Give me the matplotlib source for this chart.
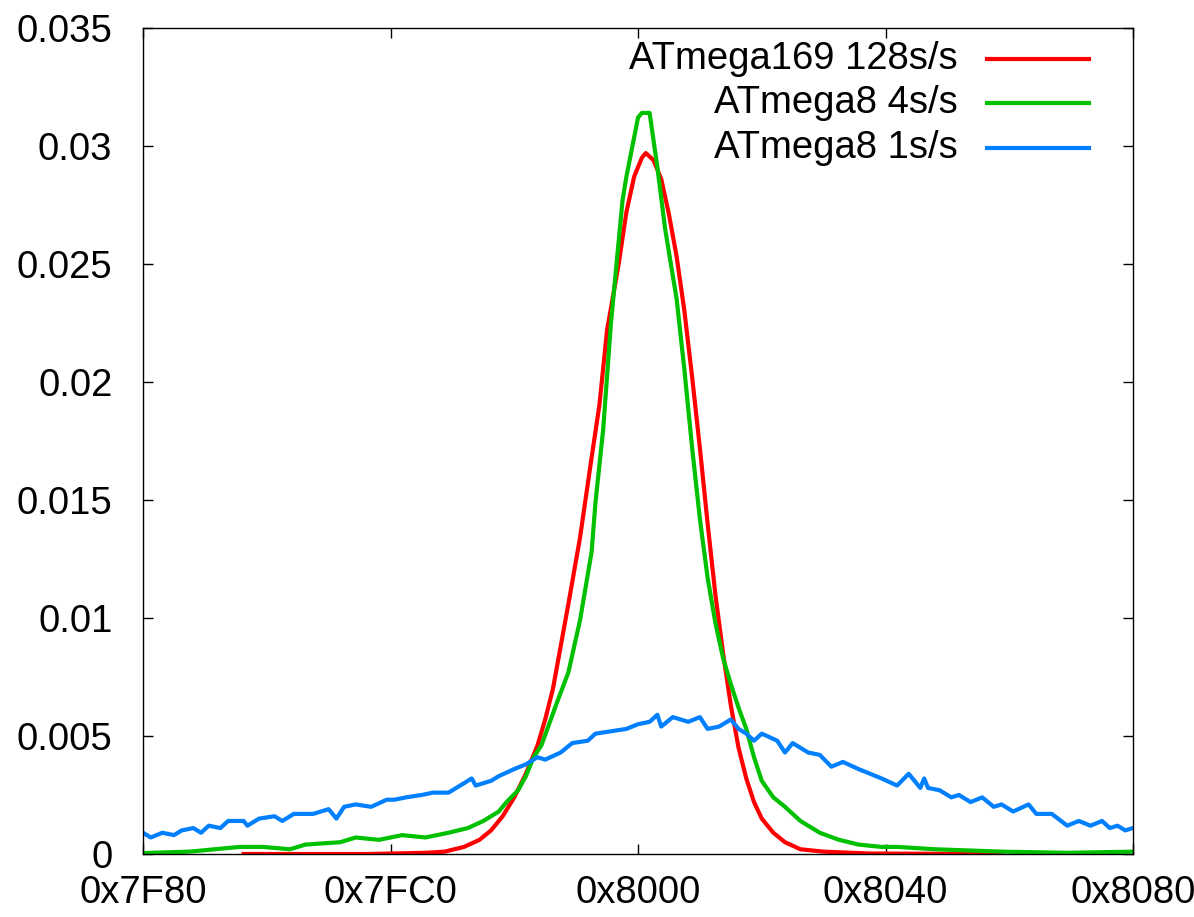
import matplotlib
matplotlib.use("Agg")
import matplotlib.pyplot as plt
from matplotlib.ticker import FuncFormatter

plt.rcParams['font.family'] = ['Liberation Sans', 'DejaVu Sans']

CENTER = 0x8000

# ATmega169 128s/s (offset from 0x8000, probability)
red_offset = [-102, -70, -55, -50, -45, -41, -38, -35, -32, -29, -26, -24, -22, -20, -18,
              -15, -12, -10, -8, -5, -3, -1, 1, 2, 4, 6, 8, 10, 12, 14, 16, 18, 20, 22,
              24, 26, 28, 30, 32, 35, 38, 42, 48, 60, 94]
red_value = [0.0, 0.0, 0.00005, 0.0001, 0.0003, 0.0006, 0.0010, 0.0016, 0.0024, 0.0034,
             0.0046, 0.0057, 0.0070, 0.0088, 0.0106, 0.0134, 0.0168, 0.0190, 0.0222,
             0.0250, 0.0272, 0.0287, 0.0295, 0.0297, 0.0294, 0.0286, 0.0271, 0.0253,
             0.0230, 0.0202, 0.0172, 0.0140, 0.0110, 0.0085, 0.0063, 0.0045, 0.0032,
             0.0022, 0.0015, 0.0009, 0.0005, 0.0002, 0.0001, 0.00002, 0.0]

# ATmega8 4s/s
green_offset = [-128, -116, -103, -97, -90, -86, -77, -73, -67, -61, -55, -49, -44, -40,
                -36, -34, -31, -29, -27, -25, -23, -21, -18, -15, -12, -11, -9, -7, -4,
                -3, 0, 1, 3, 5, 7, 10, 12, 14, 16, 18, 20, 22, 24, 26, 28, 30, 32, 35, 38,
                42, 47, 52, 57, 63, 67, 77, 94, 111, 128]
green_value = [0.00004, 0.0001, 0.0003, 0.0003, 0.0002, 0.0004, 0.0005, 0.0007, 0.0006,
               0.0008, 0.0007, 0.0009, 0.0011, 0.0014, 0.0018, 0.0022, 0.0027, 0.0033,
               0.0041, 0.0046, 0.0055, 0.0064, 0.0077, 0.0099, 0.0128, 0.0149, 0.0180,
               0.0225, 0.0277, 0.0287, 0.0312, 0.0314, 0.0314, 0.0291, 0.0265, 0.0235,
               0.0205, 0.0172, 0.0142, 0.0117, 0.0098, 0.0083, 0.0072, 0.0062, 0.0053,
               0.0041, 0.0031, 0.0024, 0.0020, 0.0014, 0.0009, 0.0006, 0.0004, 0.0003,
               0.0003, 0.0002, 0.0001, 0.00005, 0.0001]

# ATmega8 1s/s
blue_offset = [-128, -126, -123, -120, -118, -115, -113, -111, -108, -106, -102, -101, -98,
               -94, -92, -89, -84, -80, -78, -76, -73, -69, -65, -63, -60, -56, -53, -49,
               -47, -43, -42, -38, -36, -32, -29, -26, -24, -20, -17, -13, -11, -7, -3,
               0, 3, 5, 6, 9, 13, 16, 18, 21, 24, 26, 28, 30, 32, 36, 38, 40, 44, 47, 50,
               53, 57, 60, 63, 67, 70, 73, 74, 75, 78, 81, 83, 86, 89, 92, 94, 97, 101,
               103, 107, 111, 114, 117, 120, 122, 124, 126, 128]
blue_value = [0.0009, 0.0007, 0.0009, 0.0008, 0.0010, 0.0011, 0.0009, 0.0012, 0.0011,
              0.0014, 0.0014, 0.0012, 0.0015, 0.0016, 0.0014, 0.0017, 0.0017, 0.0019,
              0.0015, 0.0020, 0.0021, 0.0020, 0.0023, 0.0023, 0.0024, 0.0025, 0.0026,
              0.0026, 0.0028, 0.0032, 0.0029, 0.0031, 0.0033, 0.0036, 0.0038, 0.0041,
              0.0040, 0.0043, 0.0047, 0.0048, 0.0051, 0.0052, 0.0053, 0.0055, 0.0056,
              0.0059, 0.0054, 0.0058, 0.0056, 0.0058, 0.0053, 0.0054, 0.0057, 0.0053,
              0.0051, 0.0048, 0.0051, 0.0048, 0.0043, 0.0047, 0.0043, 0.0042, 0.0037,
              0.0039, 0.0036, 0.0034, 0.0032, 0.0029, 0.0034, 0.0028, 0.0032, 0.0028,
              0.0027, 0.0024, 0.0025, 0.0022, 0.0024, 0.0020, 0.0021, 0.0018, 0.0021,
              0.0017, 0.0017, 0.0012, 0.0014, 0.0012, 0.0014, 0.0011, 0.0012, 0.0010,
              0.0011]

series_labels = ["ATmega169 128s/s", "ATmega8 4s/s", "ATmega8 1s/s"]
series_colors = ["#ff0000", "#00c000", "#0080ff"]
x_ticks = [0x7F80, 0x7FC0, 0x8000, 0x8040, 0x8080]
y_ticks = [0, 0.005, 0.01, 0.015, 0.02, 0.025, 0.03, 0.035]

fig = plt.figure(figsize=(11.94, 9.17), dpi=100)
ax = fig.add_axes([0.1198, 0.0687, 0.8291, 0.9008])

series = [(red_offset, red_value), (green_offset, green_value), (blue_offset, blue_value)]
for (off, val), color in zip(series, series_colors):
    ax.plot([CENTER + o for o in off], val, color=color, lw=3.0, solid_joinstyle='round')

ax.set_xlim(0x7F80, 0x8080)
ax.set_ylim(0, 0.035)
ax.set_xticks(x_ticks)
ax.set_yticks(y_ticks)
ax.xaxis.set_major_formatter(FuncFormatter(lambda v, p: "0x%04X" % int(round(v))))
ax.yaxis.set_major_formatter(FuncFormatter(lambda v, p: ("%g" % v) if v != 0 else "0"))
ax.tick_params(direction='in', length=7, width=1.0, top=True, right=True,
               labelsize=27.5, colors='black')
ax.tick_params(axis='y', pad=22)
ax.tick_params(axis='x', pad=15)
for s in ax.spines.values():
    s.set_linewidth(1.0)

# legend (gnuplot style: right-aligned text, line sample to the right)
leg_y = [0.9625, 0.9092, 0.8547]
for lab, color, yy in zip(series_labels, series_colors, leg_y):
    ax.text(0.8232, yy, lab, transform=ax.transAxes, ha='right', va='center', fontsize=27.5)
    ax.plot([0.8525, 0.9556], [yy, yy], transform=ax.transAxes, color=color, lw=3.0,
            clip_on=False)

fig.savefig("out.png", dpi=100)
